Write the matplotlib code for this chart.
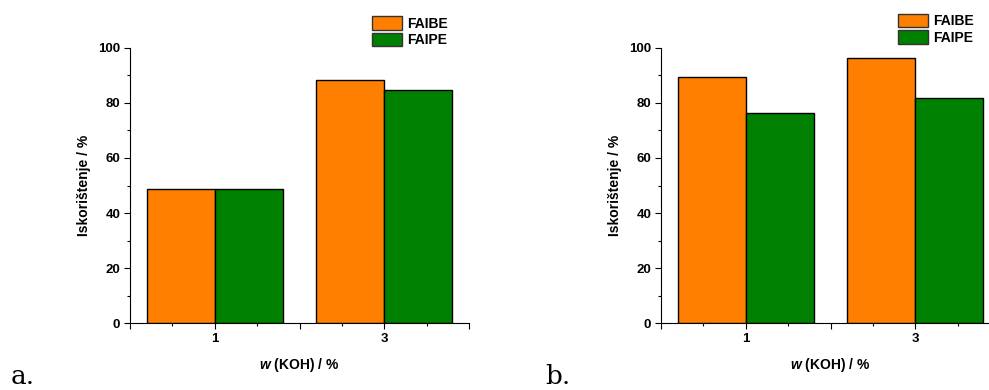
import numpy as np
import matplotlib.pyplot as plt
from matplotlib.ticker import MultipleLocator, FixedLocator

# podaci
koh = ['1', '3']
faibe_a = [48.6, 88.4]
faipe_a = [48.8, 84.8]
faibe_b = [89.4, 96.1]
faipe_b = [76.4, 81.9]

plt.rcParams['font.family'] = 'Liberation Sans'
plt.rcParams['font.weight'] = 'bold'
plt.rcParams['mathtext.fontset'] = 'custom'
plt.rcParams['mathtext.bfit'] = 'Liberation Sans:bold:italic'

W, H = 989, 390
fig = plt.figure(figsize=(W / 100, H / 100), dpi=100)

orange = '#ff8000'
green = '#008000'


def panel(left_px, faibe, faipe, leg_px, letter, letter_px):
    ax = fig.add_axes([left_px / W, (H - 323.3) / H, 339 / W, 275.6 / H])
    pos = np.array([1, 3])
    bw = 0.8
    ax.bar(pos - bw / 2, faibe, width=bw, color=orange, edgecolor='black', linewidth=1, label='FAIBE')
    ax.bar(pos + bw / 2, faipe, width=bw, color=green, edgecolor='black', linewidth=1, label='FAIPE')
    ax.set_xlim(0, 4)
    ax.set_ylim(0, 100)
    ax.spines['top'].set_visible(False)
    ax.spines['right'].set_visible(False)
    ax.spines['left'].set_linewidth(0.8)
    ax.spines['bottom'].set_linewidth(0.8)
    ax.xaxis.set_major_locator(FixedLocator([0, 1, 2, 3, 4]))
    ax.set_xticklabels(['', koh[0], '', koh[1], ''])
    ax.xaxis.set_minor_locator(MultipleLocator(0.5))
    ax.yaxis.set_major_locator(MultipleLocator(20))
    ax.yaxis.set_minor_locator(MultipleLocator(10))
    ax.tick_params(which='major', length=4, width=0.8, labelsize=9.5, pad=3)
    ax.tick_params(which='minor', length=2, width=0.8)
    ax.set_ylabel('Iskorištenje / %', fontsize=10, fontweight='bold', labelpad=5)
    ax.set_xlabel(r'$\mathbfit{w}$ (KOH) / %', fontsize=10, fontweight='bold', labelpad=8)
    leg = ax.legend(loc='upper left', bbox_to_anchor=(leg_px[0] / W, 1 - leg_px[1] / H),
                    bbox_transform=fig.transFigure, frameon=False, borderpad=0,
                    borderaxespad=0, handlelength=2.2, handleheight=1.1,
                    labelspacing=0.15, handletextpad=0.35,
                    prop={'size': 10, 'weight': 'bold'})
    for p in leg.get_patches():
        p.set_edgecolor('#333333')
    fig.text(letter_px / W, 1 / H, letter, fontsize=19, family='DejaVu Serif',
             fontweight='normal', ha='left', va='bottom')
    return ax


panel(130, faibe_a, faipe_a, (371.7, 16.3), 'a.', 11)
panel(661, faibe_b, faipe_b, (897.7, 13.7), 'b.', 545)

fig.savefig('out.png', dpi=100)
